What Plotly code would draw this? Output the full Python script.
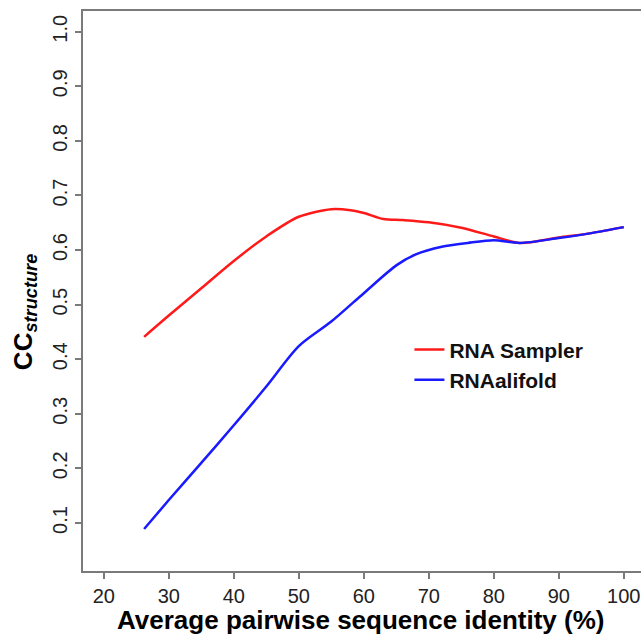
import plotly.graph_objects as go

# Data
sampler_x = [26.2, 30, 35, 40, 45, 50, 55, 58, 60, 63, 66, 70, 75, 80, 84, 90, 95, 100]
sampler_y = [0.441, 0.480, 0.530, 0.580, 0.625, 0.661, 0.675, 0.673, 0.668, 0.657, 0.655, 0.651, 0.641, 0.625, 0.613, 0.623, 0.631, 0.642]

alifold_x = [26.2, 30, 35, 40, 45, 50, 55, 60, 65, 68, 72, 76, 80, 84, 90, 95, 100]
alifold_y = [0.089, 0.142, 0.210, 0.279, 0.350, 0.424, 0.469, 0.521, 0.572, 0.592, 0.606, 0.613, 0.618, 0.613, 0.622, 0.631, 0.642]

series_names = ["RNA Sampler", "RNAalifold"]
series_colors = ["#FF1A1A", "#1A1AFF"]

x_ticks = [20, 30, 40, 50, 60, 70, 80, 90, 100]
y_ticks = [0.1, 0.2, 0.3, 0.4, 0.5, 0.6, 0.7, 0.8, 0.9, 1.0]
y_ticktext = ["%.1f" % v for v in y_ticks]

FONT = "Liberation Sans, Arial, sans-serif"
AXIS_COLOR = "#7a7a7a"

fig = go.Figure()
for i, (xs, ys) in enumerate([(sampler_x, sampler_y), (alifold_x, alifold_y)]):
    fig.add_trace(go.Scatter(
        x=xs, y=ys, mode="lines", name=series_names[i],
        legendgroup=series_names[i],
        line=dict(color=series_colors[i], width=2.5, shape="spline", smoothing=0.8),
    ))

fig.update_layout(
    width=641, height=636,
    margin=dict(l=83, r=0, t=11, b=65),
    paper_bgcolor="white", plot_bgcolor="white",
    font=dict(family=FONT, color="#222222"),
    showlegend=True,
    legend=dict(
        x=0.585, y=0.368, xanchor="left", yanchor="middle",
        bgcolor="rgba(0,0,0,0)", borderwidth=0,
        font=dict(family=FONT, size=21, color="#111111", weight="bold"),
        tracegroupgap=0, traceorder="grouped",
        itemwidth=30,
    ),
    xaxis=dict(
        range=[16.8, 102.65], tickvals=x_ticks, ticks="outside", ticklen=6,
        tickcolor=AXIS_COLOR, tickwidth=1.5,
        showline=True, linecolor=AXIS_COLOR, linewidth=1.5, mirror=True,
        showgrid=False, zeroline=False,
        tickfont=dict(size=20, family=FONT, color="#222222"),
    ),
    yaxis=dict(
        range=[0.012, 1.038], tickvals=y_ticks, ticktext=y_ticktext,
        ticks="outside", ticklen=6, tickcolor=AXIS_COLOR, tickwidth=1.5,
        showline=True, linecolor=AXIS_COLOR, linewidth=1.5,
        showgrid=False, zeroline=False, tickangle=-90,
        tickfont=dict(size=20, family=FONT, color="#222222"),
    ),
    annotations=[
        dict(text="<b>Average pairwise sequence identity (%)</b>",
             xref="paper", yref="paper", x=0.498, y=-0.088,
             xanchor="center", yanchor="middle", showarrow=False,
             font=dict(size=26, family=FONT, color="#000000")),
        dict(text="<b>CC<sub><i>structure</i></sub></b>",
             xref="paper", yref="paper", x=-0.106, y=0.462,
             xanchor="center", yanchor="middle", showarrow=False, textangle=-90,
             font=dict(size=26, family=FONT, color="#000000")),
    ],
)

fig.write_html("out.html")
